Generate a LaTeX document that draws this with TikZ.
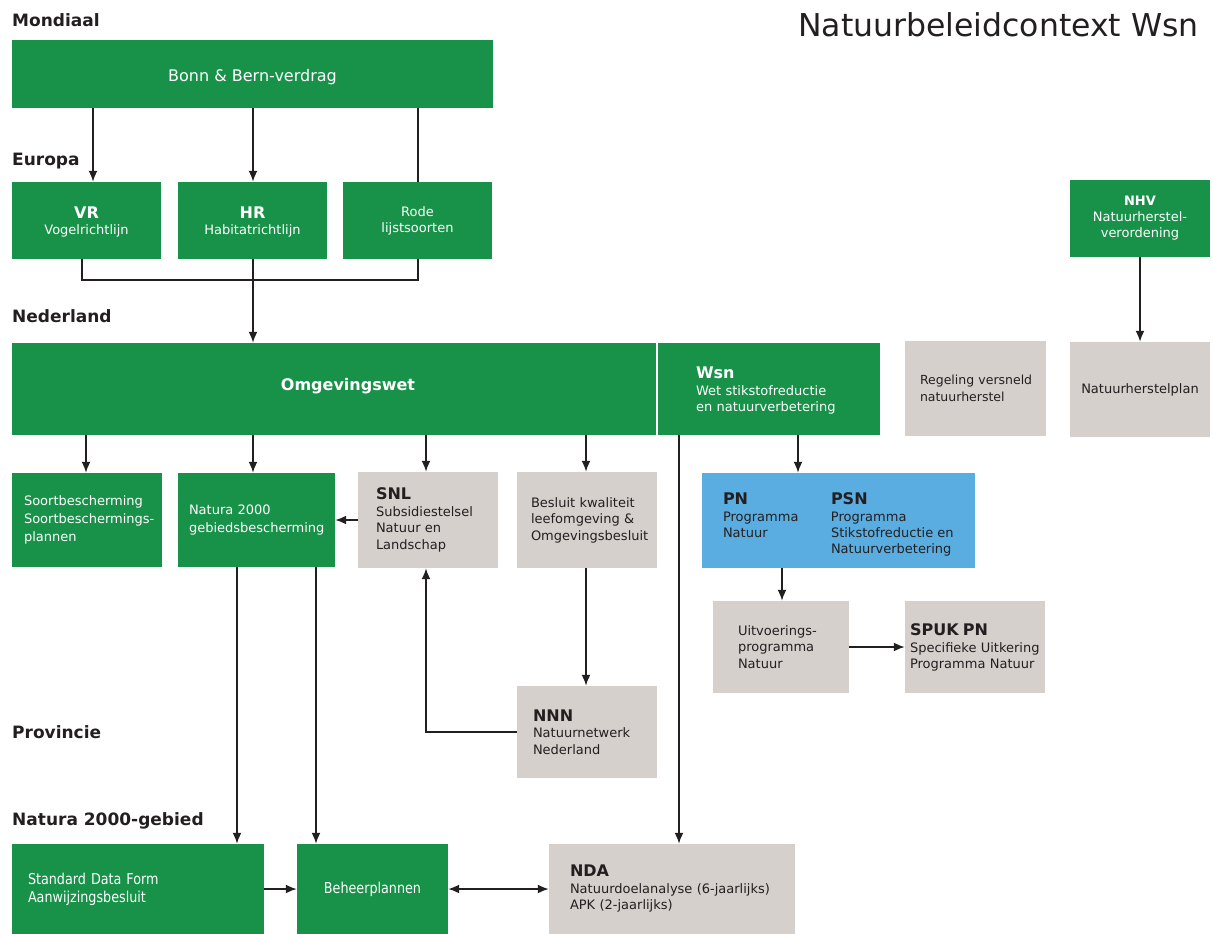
\documentclass[tikz,border=0pt]{standalone}
\usepackage{fontspec}
\setmainfont{DejaVu Sans}
\newfontfamily\narrowfont[FakeStretch=0.85]{DejaVu Sans}
\usetikzlibrary{arrows.meta}
\definecolor{ngreen}{HTML}{179248}
\definecolor{ngrey}{HTML}{D5D0CC}
\definecolor{nblue}{HTML}{5AADE0}
\definecolor{ink}{HTML}{231F20}
\hyphenpenalty=10000
\exhyphenpenalty=10000
\newcommand\hd[1]{{\fontsize{16}{18}\selectfont\bfseries #1}}
% lower a block of text without changing the size it reports
\newcommand\lowered[2]{\raisebox{-#1}[\height][\depth]{#2}}
\tikzset{
  every node/.style={inner sep=0pt, font=\fontsize{13}{16.5}\selectfont},
  gbox/.style={rectangle, fill=ngreen, text=white},
  ybox/.style={rectangle, fill=ngrey, text=ink},
  bbox/.style={rectangle, fill=nblue, text=ink},
  lvl/.style={anchor=base west, text=ink, font=\fontsize{17}{20}\selectfont\bfseries},
  conn/.style={draw=ink, line width=1.8pt},
  arr/.style={conn, -{Latex[length=11pt,width=9pt]}},
  arrboth/.style={conn, {Latex[length=11pt,width=9pt]}-{Latex[length=11pt,width=9pt]}},
}
\begin{document}
\begin{tikzpicture}[x=1pt,y=-1pt]
\useasboundingbox (0,0) rectangle (1213,934);

% title and level headings
\node[anchor=base east, text=ink, font=\fontsize{31.5}{36}\selectfont] (title) at (1199,37) {Natuurbeleidcontext Wsn};
\node[lvl] (lmond) at (12,27) {Mondiaal};
\node[lvl] (leur) at (12,165) {Europa};
\node[lvl] (lned) at (12,322) {Nederland};
\node[lvl] (lprov) at (12,738) {Provincie};
\node[lvl] (lgeb) at (12,825) {Natura 2000-gebied};

% world and Europe
\node[gbox, minimum width=481pt, minimum height=68pt, font=\fontsize{16}{19}\selectfont] (bonn) at (252.5,74) {\lowered{3pt}{Bonn \& Bern-verdrag}};
\node[gbox, minimum width=149pt, minimum height=77pt, font=\fontsize{13}{16}\selectfont] (vr) at (86.5,220.5) {\lowered{3pt}{\begin{tabular}{@{}c@{}}\hd{VR}\\Vogelrichtlijn\end{tabular}}};
\node[gbox, minimum width=149pt, minimum height=77pt, font=\fontsize{13}{16}\selectfont] (hr) at (252.5,220.5) {\lowered{3pt}{\begin{tabular}{@{}c@{}}\hd{HR}\\Habitatrichtlijn\end{tabular}}};
\node[gbox, minimum width=149pt, minimum height=77pt, align=center, font=\fontsize{13}{16}\selectfont] (rode) at (417.5,220.5) {Rode\\lijstsoorten};
\node[gbox, minimum width=140pt, minimum height=77pt, align=center, font=\fontsize{13}{16}\selectfont] (nhv) at (1140,218.5) {\textbf{NHV}\\Natuurherstel-\\verordening};

% national level
\node[gbox, minimum width=644pt, minimum height=92pt] (omg) at (334,389) {};
\node[text=white] (omgtxt) at (348,386) {\hd{Omgevingswet}};
\node[gbox, minimum width=222pt, minimum height=92pt, text width=146pt, align=left] (wsn) at (769,389) {\lowered{3pt}{\begin{tabular}{@{}l@{}}\hd{Wsn}\\Wet stikstofreductie\\en natuurverbetering\end{tabular}}};
\node[ybox, minimum width=141pt, minimum height=95pt, text width=111pt, align=left, font=\fontsize{12.5}{16.5}\selectfont] (regel) at (975.5,388.5) {Regeling~versneld\\natuurherstel};
\node[ybox, minimum width=140pt, minimum height=95pt] (nhp) at (1140,389.5) {Natuurherstelplan};

\node[gbox, minimum width=150pt, minimum height=94pt, text width=126pt, align=left, font=\fontsize{13}{18}\selectfont] (soort) at (87,520) {Soortbescherming\\Soortbeschermings-\\plannen};
\node[gbox, minimum width=157pt, minimum height=94pt, text width=135pt, align=left, font=\fontsize{13}{18}\selectfont] (natura) at (256.5,520) {Natura~2000\\gebiedsbescherming};
\node[ybox, minimum width=140pt, minimum height=96pt, text width=104pt, align=left] (snl) at (428,520) {\hd{SNL}\\Subsidiestelsel\\Natuur~en\\Landschap};
\node[ybox, minimum width=140pt, minimum height=96pt, text width=112pt, align=left] (besluit) at (587,520) {Besluit~kwaliteit\\leefomgeving~\&\\Omgevingsbesluit};
\node[bbox, minimum width=273pt, minimum height=95pt] (prog) at (838.5,520.5) {%
  \lowered{5pt}{\begin{tabular}{@{}p{108pt}@{}p{123pt}@{}}
  \hd{PN} & \hd{PSN}\\
  Programma & Programma\\[-0.5pt]
  Natuur & Stikstofreductie~en\\[-0.5pt]
   & Natuurverbetering
  \end{tabular}}};
\node[ybox, minimum width=136pt, minimum height=92pt, text width=86pt, align=left] (uitv) at (781,647) {Uitvoerings-\\programma\\Natuur};
\node[ybox, minimum width=140pt, minimum height=92pt, text width=130pt, align=left] (spuk) at (975,647) {\lowered{2pt}{\begin{tabular}{@{}l@{}}\hd{SPUK PN}\\Specifieke Uitkering\\Programma Natuur\end{tabular}}};

% provincial level
\node[ybox, minimum width=140pt, minimum height=92pt, text width=108pt, align=left] (nnn) at (587,732) {\hd{NNN}\\Natuurnetwerk\\Nederland};

% site level
\node[gbox, minimum width=252pt, minimum height=90pt, text width=220pt, align=left, font=\narrowfont\fontsize{15}{18}\selectfont] (sdf) at (138,889) {Standard~Data~Form\\Aanwijzingsbesluit};
\node[gbox, minimum width=151pt, minimum height=90pt, font=\narrowfont\fontsize{15}{18}\selectfont] (beheer) at (372.5,889) {Beheerplannen};
\node[ybox, minimum width=246pt, minimum height=90pt, text width=204pt, align=left] (nda) at (672,889) {\hd{NDA}\\Natuurdoelanalyse~(6-jaarlijks)\\APK~(2-jaarlijks)};

% connector columns
\coordinate (xvr) at (93,0);
\coordinate (xhr) at (253,0);
\coordinate (xrode) at (418,0);
\coordinate (x82) at (82,0);
\coordinate (xeu) at (253,280);
\coordinate (xsoort) at (86,0);
\coordinate (xnat) at (253,0);
\coordinate (xsnl) at (426,0);
\coordinate (xbes) at (586,0);
\coordinate (xpn) at (798,0);
\coordinate (xnda) at (679,0);
\coordinate (xuit) at (782,0);
\coordinate (xsdf) at (237,0);
\coordinate (xbh) at (316,0);

% connectors
\draw[arr] (bonn.south -| xvr) -- (vr.north -| xvr);
\draw[arr] (bonn.south -| xhr) -- (hr.north -| xhr);
\draw[conn] (bonn.south -| xrode) -- (rode.north -| xrode);
\draw[conn] (vr.south -| x82) |- (xeu) -| (rode.south -| xrode);
\draw[arr] (hr.south -| xhr) -- (omg.north -| xhr);
\draw[arr] (nhv) -- (nhp);
\draw[arr] (omg.south -| xsoort) -- (soort.north -| xsoort);
\draw[arr] (omg.south -| xnat) -- (natura.north -| xnat);
\draw[arr] (omg.south -| xsnl) -- (snl.north -| xsnl);
\draw[arr] (omg.south -| xbes) -- (besluit.north -| xbes);
\draw[arr] (wsn.south -| xpn) -- (prog.north -| xpn);
\draw[arr] (wsn.south -| xnda) -- (nda.north -| xnda);
\draw[arr] (snl.west) -- (natura.east);
\draw[arr] (besluit.south -| xbes) -- (nnn.north -| xbes);
\draw[arr] (nnn.west) -| (snl.south -| xsnl);
\draw[arr] (prog.south -| xuit) -- (uitv.north -| xuit);
\draw[arr] (uitv) -- (spuk);
\draw[arr] (natura.south -| xsdf) -- (sdf.north -| xsdf);
\draw[arr] (natura.south -| xbh) -- (beheer.north -| xbh);
\draw[arr] (sdf) -- (beheer);
\draw[arrboth] (beheer) -- (nda);
\end{tikzpicture}
\end{document}
